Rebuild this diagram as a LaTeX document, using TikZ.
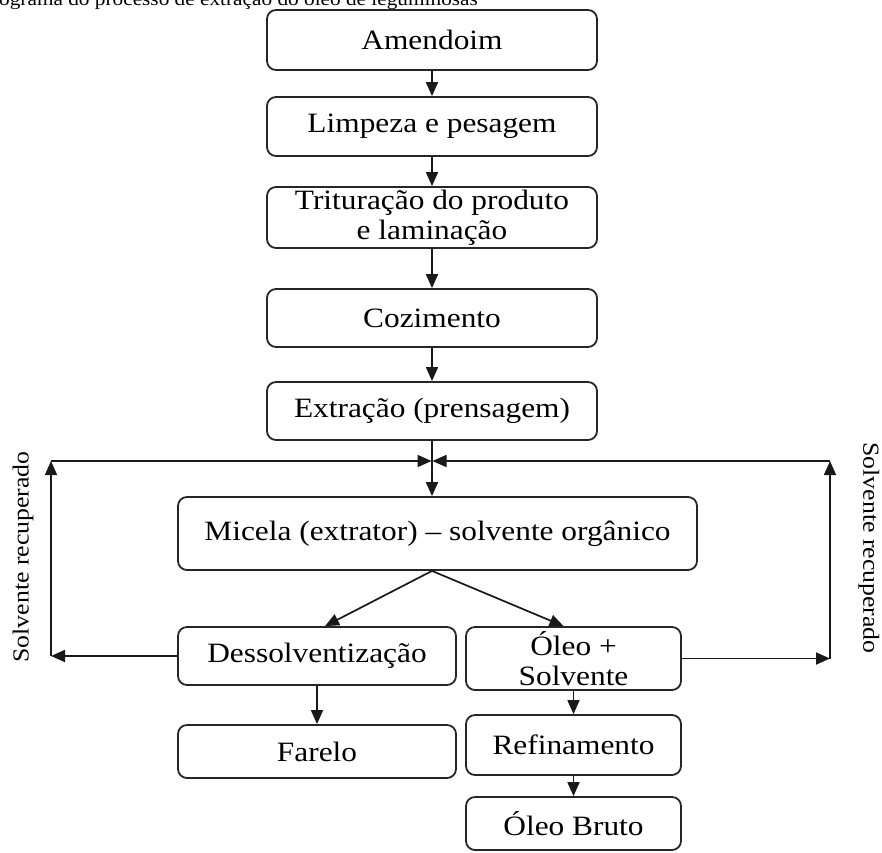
\documentclass[tikz,border=0pt]{standalone}
\usepackage{fontspec}
\setmainfont{Liberation Serif}[FakeStretch=1.12]
\usetikzlibrary{arrows.meta}
\newcommand{\pbox}[6]{%
  \node[box, minimum width={#4-#2}, minimum height={#5-#3}] (#1) at ({(#2+#4)/2},{(#3+#5)/2}) {#6};}
\begin{document}
\begin{tikzpicture}[x=1pt,y=-1pt,
  box/.style={draw=black!85, rounded corners=9pt, line width=1.8pt, align=center, inner sep=0pt,
    font=\fontsize{28}{30}\selectfont},
  arr/.style={-{Triangle[length=14pt,width=12pt]}, line width=1.7pt, draw=black!90},
  side/.style={inner sep=0pt, font=\fontsize{23}{25}\selectfont}]
\useasboundingbox (0,0) rectangle (882,852);
\clip (0,0) rectangle (882,852);
\node[anchor=base west, inner sep=0pt, font=\fontsize{19}{21}\selectfont] (ti) at (-1,5.5) {ograma do processo de extração do óleo de leguminosas};
\pbox{am}{267}{10}{597}{70}{Amendoim}
\pbox{li}{267}{97}{597}{156}{Limpeza e pesagem}
\pbox{tr}{267}{187}{597}{248}{Trituração do produto\\e laminação}
\pbox{co}{267}{289}{597}{347}{Cozimento}
\pbox{ex}{267}{382}{597}{440}{Extração (prensagem)}
\pbox{mi}{178}{497}{697}{570}{Micela (extrator) – solvente orgânico}
\pbox{de}{178}{627}{456}{685}{Dessolventização}
\pbox{os}{466}{627}{681}{690}{Óleo +\\Solvente}
\pbox{fa}{178}{725}{456}{778}{Farelo}
\pbox{re}{466}{715}{681}{775}{Refinamento}
\pbox{ob}{466}{797}{681}{850}{Óleo Bruto}
\coordinate (j) at (432,461);
\coordinate (L) at (51,461);
\coordinate (R) at (830,461);
\node[side, rotate=90] (ll) at (23,557) {Solvente recuperado};
\node[side, rotate=-90] (rl) at (869,548) {Solvente recuperado};
\draw[arr] (am) -- (li);
\draw[arr] (li) -- (tr);
\draw[arr] (tr) -- (co);
\draw[arr] (co) -- (ex);
\draw[arr] (ex.south -| j) -- (j |- mi.north);
\draw[arr] (j |- mi.south) -- ([xshift=8pt]de.north);
\draw[arr] (j |- mi.south) -- ([xshift=-10pt]os.north);
\draw[arr] (de) -- (fa);
\draw[arr] (os) -- (re);
\draw[arr] (re) -- (ob);
\draw[arr] (de.west) -- (de.west -| L);
\draw[arr] (de.west -| L) -- (L);
\draw[arr] (L) -- ([xshift=-0.5pt]j);
\draw[arr] (os.east) -- (os.east -| R);
\draw[arr] (os.east -| R) -- (R);
\draw[arr] (R) -- ([xshift=0.5pt]j);
\end{tikzpicture}
\end{document}
